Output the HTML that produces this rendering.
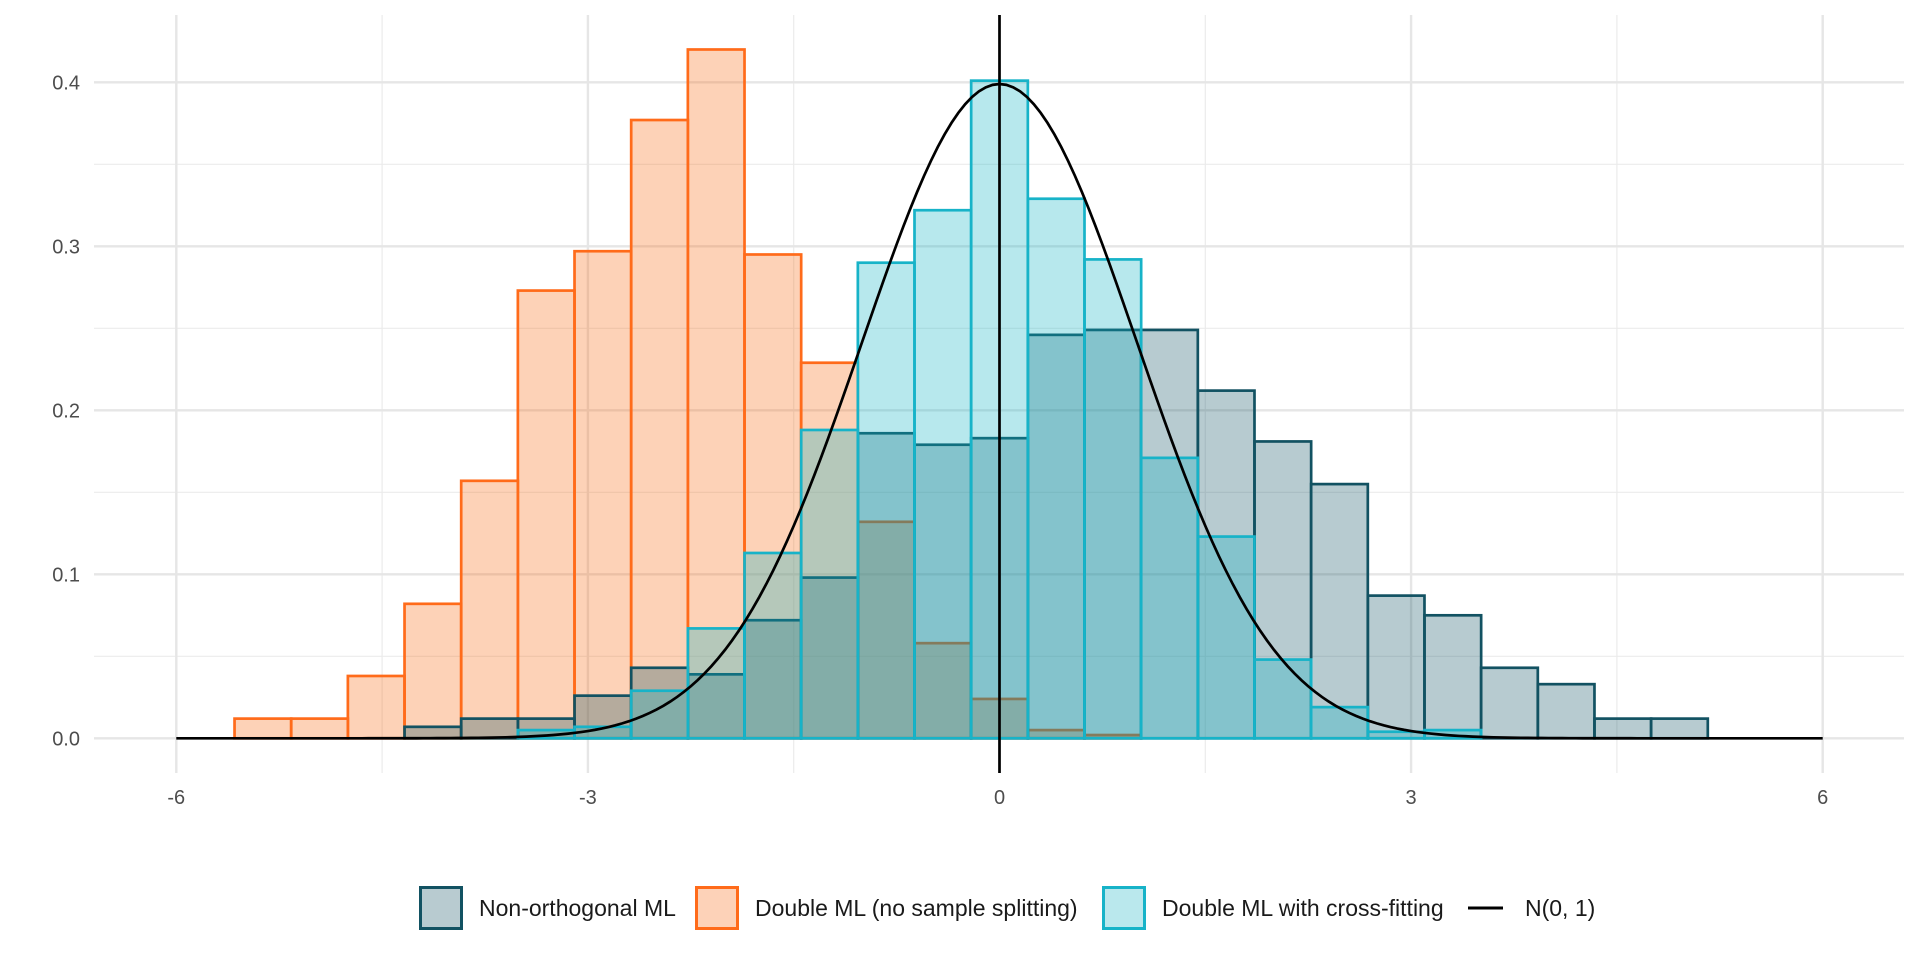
<!DOCTYPE html>
<html><head><meta charset="utf-8"><style>
html,body{margin:0;padding:0;background:#fff;}
svg{display:block;font-family:"Liberation Sans",sans-serif;}
</style></head><body>
<svg id="chart" width="1920" height="960" viewBox="0 0 1920 960" xmlns="http://www.w3.org/2000/svg">
<g id="grid"></g>
<g id="bars"></g>
<g id="curve"></g>
<g id="axes"></g>
<g id="legend">
  <rect x="420.5" y="887.5" width="41" height="41" fill="#b8cbd0" stroke="#125262" stroke-width="3"/>
  <text x="479" y="916" font-size="23" fill="#1a1a1a">Non-orthogonal ML</text>
  <rect x="696.5" y="887.5" width="41" height="41" fill="#fdd2b8" stroke="#ff6b1a" stroke-width="3"/>
  <text x="755" y="916" font-size="23" fill="#1a1a1a">Double ML (no sample splitting)</text>
  <rect x="1103.5" y="887.5" width="41" height="41" fill="#bae8ed" stroke="#17b3c8" stroke-width="3"/>
  <text x="1162" y="916" font-size="23" fill="#1a1a1a">Double ML with cross-fitting</text>
  <line x1="1468" y1="908" x2="1503" y2="908" stroke="#000" stroke-width="3"/>
  <text x="1525" y="916" font-size="23" fill="#1a1a1a">N(0, 1)</text>
</g>
</svg>
<script>
// data
const binWidth = 0.413;
const binIndex = [-13,-12,-11,-10,-9,-8,-7,-6,-5,-4,-3,-2,-1,0,1,2,3,4,5,6,7,8,9,10,11,12];
const noSplitVals =  [0.012,0.012,0.038,0.082,0.157,0.273,0.297,0.377,0.420,0.295,0.229,0.132,0.058,0.024,0.005,0.002,0,0,0,0,0,0,0,0,0,0];
const nonOrthVals =  [0,0,0,0.007,0.012,0.012,0.026,0.043,0.039,0.072,0.098,0.186,0.179,0.183,0.246,0.249,0.249,0.212,0.181,0.155,0.087,0.075,0.043,0.033,0.012,0.012];
const crossFitVals = [0,0,0,0,0,0.005,0.007,0.029,0.067,0.113,0.188,0.290,0.322,0.401,0.329,0.292,0.171,0.123,0.048,0.019,0.004,0.005,0,0,0,0];
const xTicks = [-6,-3,0,3,6];
const xMinor = [-4.5,-1.5,1.5,4.5];
const yTicks = [0,0.1,0.2,0.3,0.4];
const yTickLabels = ["0.0","0.1","0.2","0.3","0.4"];
const yMinor = [0.05,0.15,0.25,0.35];

const NS="http://www.w3.org/2000/svg";
const X0=176.3, X1=1822.7, Y0=738.3, YPU=1640;
const PL=94, PR=1904, PT=15, PB=773;
function sx(v){return X0+(v+6)*(X1-X0)/12;}
function sy(v){return Y0-v*YPU;}
function mk(tag,attrs,parent){const e=document.createElementNS(NS,tag);for(const k in attrs)e.setAttribute(k,attrs[k]);parent.appendChild(e);return e;}

const grid=document.getElementById('grid');
yMinor.forEach(v=>{const l=mk('line',{x1:PL,x2:PR,y1:sy(v),y2:sy(v),stroke:'#ebebeb','stroke-width':1.2},grid);

});
xMinor.forEach(v=>{const l=mk('line',{x1:sx(v),x2:sx(v),y1:PT,y2:PB,stroke:'#ebebeb','stroke-width':1.2},grid);

});
yTicks.forEach(v=>{const l=mk('line',{x1:PL,x2:PR,y1:sy(v),y2:sy(v),stroke:'#e6e6e6','stroke-width':2.4},grid);

});
xTicks.forEach(v=>{const l=mk('line',{x1:sx(v),x2:sx(v),y1:PT,y2:PB,stroke:'#e6e6e6','stroke-width':2.4},grid);

});

const bars=document.getElementById('bars');
function series(vals,fill,stroke,name){
  const g=mk('g',{},bars);
  
  
  binIndex.forEach((k,i)=>{
    const v=vals[i]; if(!v) return;
    const c=k*binWidth, x=sx(c-binWidth/2), w=sx(c+binWidth/2)-x;
    const r=mk('rect',{x:x,y:sy(v),width:w,height:sy(0)-sy(v),fill:fill,'fill-opacity':0.3,stroke:stroke,'stroke-width':2.7},g);
    
    
  });
}
series(noSplitVals,'#f86912','#ff6b1a','no-splitting');
series(nonOrthVals,'#125262','#125262','non-orthogonal');
series(crossFitVals,'#12b2c3','#17b3c8','cross-fitting');

const cg=document.getElementById('curve');
let d='';
for(let i=0;i<=240;i++){const x=-6+i*0.05;const y=Math.exp(-x*x/2)/Math.sqrt(2*Math.PI);d+=(i?'L':'M')+sx(x).toFixed(2)+','+sy(y).toFixed(2);}
const p=mk('path',{d:d,fill:'none',stroke:'#000','stroke-width':2.7},cg);


const vl=mk('line',{x1:sx(0),x2:sx(0),y1:PT,y2:PB,stroke:'#000','stroke-width':2.7},cg);



const axes=document.getElementById('axes');
xTicks.forEach(v=>{const t=mk('text',{x:sx(v),y:804,'text-anchor':'middle','font-size':20,fill:'#4d4d4d'},axes);t.textContent=String(v);

});
yTicks.forEach((v,i)=>{const t=mk('text',{x:80,y:sy(v)+7,'text-anchor':'end','font-size':20,fill:'#4d4d4d'},axes);t.textContent=yTickLabels[i];

});
</script>
</body></html>
